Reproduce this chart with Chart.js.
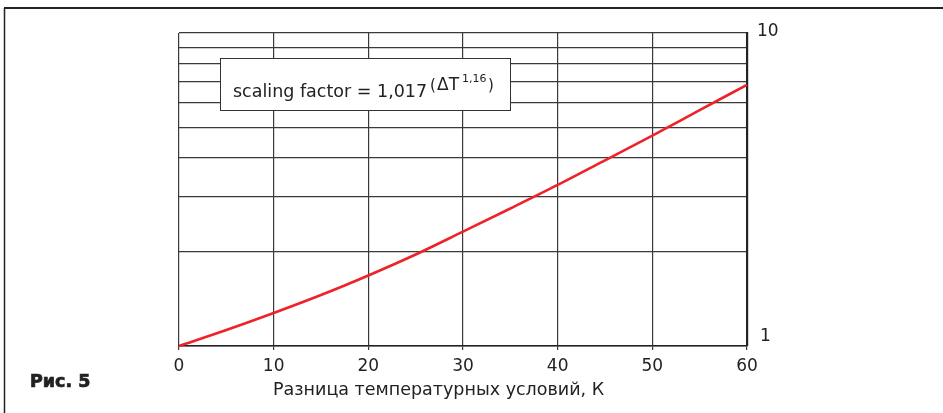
<!DOCTYPE html>
<html>
<head>
<meta charset="utf-8">
<script src="https://cdn.jsdelivr.net/npm/chart.js@4/dist/chart.umd.min.js"></script>
<style>
  html, body { margin: 0; padding: 0; background: #fff; }
  #wrap { width: 943px; height: 413px; }
</style>
</head>
<body>
<div id="wrap"><canvas id="c" width="943" height="413"></canvas></div>
<script>
// Temperature difference (K) and the resulting scaling factor
const deltaT = [0, 5, 10, 15, 20, 25, 30, 35, 40, 45, 50, 55, 60];
const scalingFactor = [1.0, 1.125, 1.275, 1.455, 1.68, 1.96, 2.32, 2.75, 3.27, 3.92, 4.70, 5.67, 6.83];

const xTicks = [0, 10, 20, 30, 40, 50, 60];
const yLabelValues = [1, 10];
const xTitle = 'Разница температурных условий, К';
const figLabel = 'Рис. 5';

const FONT = '"DejaVu Sans", sans-serif';
const INK = '#222';
const GRID = '#3a3a3a';

const decor = {
  id: 'decor',
  afterDraw(chart) {
    const ctx = chart.ctx;
    const ys = chart.scales.y;
    ctx.save();

    // outer frame (top and left rules)
    ctx.strokeStyle = '#222';
    ctx.lineWidth = 2;
    ctx.beginPath(); ctx.moveTo(4, 8); ctx.lineTo(943, 8); ctx.stroke();
    ctx.lineWidth = 1.5;
    ctx.beginPath(); ctx.moveTo(4.5, 8); ctx.lineTo(4.5, 413); ctx.stroke();

    // right-hand log axis labels
    ctx.fillStyle = INK;
    ctx.font = '17px ' + FONT;
    ctx.textAlign = 'left';
    ctx.textBaseline = 'middle';
    yLabelValues.forEach(v => {
      const py = ys.getPixelForValue(v);
      const dy = v === 1 ? -9 : -1;
      ctx.fillText(String(v), ys.left + 10 + (v === 1 ? 3 : 0), py + dy);
    });

    // x axis title
    ctx.textBaseline = 'alphabetic';
    ctx.font = '17.5px ' + FONT;
    ctx.fillText(xTitle, 273, 395);

    // figure label (heavy)
    ctx.font = 'bold 17.5px ' + FONT;
    ctx.strokeStyle = INK;
    ctx.lineWidth = 0.7;
    ctx.fillText(figLabel, 30, 387);
    ctx.strokeText(figLabel, 30, 387);

    // formula box
    const bx = 220.5, by = 58.5, bw = 290, bh = 52;
    ctx.fillStyle = '#fff';
    ctx.fillRect(bx, by, bw, bh);
    ctx.strokeStyle = '#333';
    ctx.lineWidth = 1;
    ctx.strokeRect(bx, by, bw, bh);

    ctx.fillStyle = INK;
    ctx.font = '17.5px ' + FONT;
    ctx.fillText('scaling factor = 1,017', 233, 97);
    ctx.font = '15px ' + FONT;
    ctx.fillText('(', 430, 90);
    ctx.font = '17px ' + FONT;
    ctx.fillText('ΔT', 437, 90);
    ctx.font = '11px ' + FONT;
    ctx.fillText('1,16', 462, 82);
    ctx.font = '15px ' + FONT;
    ctx.fillText(')', 488, 90);

    ctx.restore();
  }
};

new Chart(document.getElementById('c'), {
  type: 'line',
  data: {
    datasets: [{
      data: deltaT.map((t, i) => ({ x: t, y: scalingFactor[i] })),
      borderColor: '#ee2229',
      borderWidth: 2.6,
      pointRadius: 0,
      cubicInterpolationMode: 'monotone',
      fill: false,
      clip: 4
    }]
  },
  options: {
    responsive: false,
    animation: false,
    devicePixelRatio: 1,
    layout: { padding: { left: 179, top: 33, right: 0, bottom: 0 } },
    plugins: { legend: { display: false }, tooltip: { enabled: false }, title: { display: false } },
    scales: {
      x: {
        type: 'linear',
        min: 0, max: 60,
        afterBuildTicks: s => { s.ticks = xTicks.map(v => ({ value: v })); },
        afterFit: s => { s.height = 67; },
        ticks: {
          color: INK,
          font: { family: FONT, size: 17 },
          padding: 6,
          maxRotation: 0,
          autoSkip: false
        },
        grid: { color: GRID, lineWidth: 1.2, drawTicks: true, tickLength: 4, tickColor: GRID },
        border: { display: true, color: '#222', width: 1.5 }
      },
      y: {
        type: 'logarithmic',
        position: 'right',
        min: 1, max: 10,
        afterBuildTicks: s => {
          s.ticks = [1, 2, 3, 4, 5, 6, 7, 8, 9, 10].map(v => ({ value: v }));
        },
        afterFit: s => { s.width = 196; },
        ticks: { display: false },
        grid: { color: GRID, lineWidth: 1.2, drawTicks: false },
        border: { display: true, color: '#222', width: 2.2 }
      }
    }
  },
  plugins: [decor]
});
</script>
</body>
</html>
